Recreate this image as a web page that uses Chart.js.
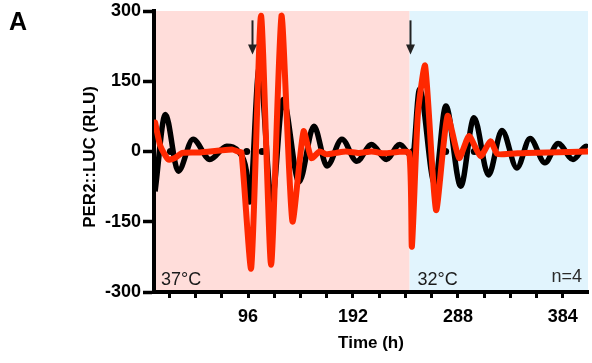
<!DOCTYPE html>
<html><head><meta charset="utf-8">
<script src="https://cdn.jsdelivr.net/npm/chart.js@4.4.1/dist/chart.umd.min.js"></script>
<style>html,body{margin:0;padding:0;background:#fff;}canvas{display:block;}</style>
</head><body>
<canvas id="c" width="592" height="363"></canvas>
<script>
// ---- data ----
const blackTimes  = [11, 20.4, 32.2, 45.7, 61.1, 76.5, 88, 94.4, 97.4, 106.4, 117.8, 128, 142.7, 156.3, 168.3, 181.9, 195.5, 209, 222.6, 234.8, 243, 246.5, 252.9, 266.7, 277, 290.6, 302.7, 316, 328.3, 342, 354, 367.6, 379.7, 393.3, 405.3, 407];
const blackValues = [-85, 79, -42, 26, -17, 11, -2, -40, -108, 180, -106, 111, -65, 54, -31, 26, -21, 15, -17, 15, -5, -12, 133, -68, 97, -74, 72, -50, 45, -35, 28, -24, 17, -17, 11, 9];
const redTimes  = [11, 15.9, 23, 29, 36, 52, 70, 82, 86.5, 90, 98.9, 107.9, 117.1, 126.6, 136.6, 146.8, 154, 161.5, 167.5, 176.5, 185.5, 197.5, 209, 221, 233, 243.5, 245.9, 251.4, 258, 268, 278.5, 289.1, 298.2, 308.7, 317.8, 324, 335, 350, 370, 390, 407];
const redValues = [62, 11, -17, -14, -3, -2, 2, 4, 0, -2, -249, 290, -242, 290, -149, 43, -14, 0, -6, -3, 0, -3, 0, -4, -1, -3, -203, 80, 183, -125, 76, -14, 33, -10, 22, -5, -5, -3, -2, -1, 0];
const markerTimes = [25, 94.8, 108.9, 246.9, 276.8, 303];
const yTickValues = [-300, -150, 0, 150, 300];
const xTickMarks = [24, 48, 72, 96, 120, 144, 168, 192, 216, 240, 264, 288, 312, 336, 360, 384];
const xTickLabels = [96, 192, 288, 384];
const phaseSwitch = 243.8;
const arrowTimes = [99.5, 243.8];
const phaseLabels = ['37°C', '32°C'];
const groupLabel = 'n=4';
const yTitle = 'PER2::LUC (RLU)';

const FONT = '"Liberation Sans", Arial, Helvetica, sans-serif';
const RED = '#FF2800';
const PINK = '#FFDDDA';
const BLUE = '#E1F4FD';

const toXY = (ts, vs) => ts.map((t, i) => ({x: t, y: vs[i]}));

const decor = {
  id: 'decor',
  beforeDraw(chart) {
    const {ctx, chartArea: a, scales: {x}} = chart;
    const xb = x.getPixelForValue(phaseSwitch);
    ctx.save();
    ctx.fillStyle = PINK;
    ctx.fillRect(a.left, a.top, xb - a.left, a.bottom - a.top);
    ctx.fillStyle = BLUE;
    ctx.fillRect(xb, a.top, a.right - xb, a.bottom - a.top);
    ctx.restore();
  },
  afterDatasetsDraw(chart) {
    const {ctx, chartArea: a, scales: {x, y}} = chart;
    ctx.save();
    for (const t of arrowTimes) {
      const px = Math.round(x.getPixelForValue(t)) + 0.5;
      const y0 = y.getPixelForValue(280), y1 = y.getPixelForValue(207);
      ctx.strokeStyle = '#222'; ctx.lineWidth = 2;
      ctx.beginPath(); ctx.moveTo(px, y0); ctx.lineTo(px, y1 - 6); ctx.stroke();
      ctx.fillStyle = '#222';
      ctx.beginPath(); ctx.moveTo(px - 4.5, y1 - 10); ctx.lineTo(px + 4.5, y1 - 10); ctx.lineTo(px, y1); ctx.closePath(); ctx.fill();
    }
    ctx.fillStyle = '#1a1a1a';
    ctx.font = '18px ' + FONT;
    ctx.textBaseline = 'alphabetic';
    ctx.textAlign = 'left';
    ctx.fillText(phaseLabels[0], a.left + 7, a.bottom - 7);
    ctx.fillText(phaseLabels[1], x.getPixelForValue(phaseSwitch) + 8, a.bottom - 7);
    ctx.textAlign = 'right';
    ctx.fillStyle = '#2a2a2a';
    ctx.fillText(groupLabel, a.right - 6, a.bottom - 10);
    ctx.restore();
  },
  afterDraw(chart) {
    const {ctx} = chart;
    ctx.save();
    ctx.fillStyle = '#000';
    ctx.font = 'bold 25px ' + FONT;
    ctx.textAlign = 'left';
    ctx.textBaseline = 'alphabetic';
    ctx.fillText('A', 9, 29.5);
    ctx.translate(90, 157);
    ctx.rotate(-Math.PI / 2);
    ctx.font = 'bold 17px ' + FONT;
    ctx.textAlign = 'center';
    ctx.textBaseline = 'middle';
    ctx.fillText(yTitle, 0, 0);
    ctx.restore();
  }
};

new Chart(document.getElementById('c'), {
  type: 'line',
  data: {
    datasets: [
      {label: 'red', data: toXY(redTimes, redValues), borderColor: RED, borderWidth: 6, pointRadius: 0, tension: 0.2, order: 0, borderJoinStyle: 'round', borderCapStyle: 'round'},
      {label: 'marks', data: markerTimes.map(t => ({x: t, y: 0})), showLine: false, pointRadius: 3.5, pointBackgroundColor: '#000', pointBorderWidth: 0, order: 1},
      {label: 'black', data: toXY(blackTimes, blackValues), borderColor: '#000', borderWidth: 5.5, pointRadius: 0, cubicInterpolationMode: 'monotone', order: 2, borderJoinStyle: 'round'}
    ]
  },
  options: {
    responsive: false,
    animation: false,
    events: [],
    layout: {padding: {top: 11, right: 0, bottom: 0, left: 0}},
    plugins: {legend: {display: false}, tooltip: {enabled: false}},
    scales: {
      x: {
        type: 'linear', min: 10, max: 407,
        afterBuildTicks: s => { s.ticks = xTickMarks.map(v => ({value: v})); },
        afterFit: s => { s.height = 71; s.paddingLeft = 0; s.paddingRight = 0; },
        grid: {display: true, drawOnChartArea: false, drawTicks: true, tickLength: 6, tickWidth: 3, tickColor: '#000'},
        border: {display: true, color: '#000', width: 4},
        ticks: {autoSkip: false, maxRotation: 0, padding: 8, color: '#000',
          font: {family: FONT, size: 18, weight: 'bold'},
          callback: v => xTickLabels.includes(v) ? String(v) : ''},
        title: {display: true, text: 'Time (h)', color: '#000', font: {family: FONT, size: 17, weight: 'bold'}, padding: {top: 0, bottom: 9}}
      },
      y: {
        min: -300, max: 300,
        afterBuildTicks: s => { s.ticks = yTickValues.map(v => ({value: v})); },
        afterFit: s => { s.width = 154; s.paddingTop = 0; s.paddingBottom = 0; },
        grid: {display: true, drawOnChartArea: false, drawTicks: true, tickLength: 11, tickWidth: 3.5, tickColor: '#000'},
        border: {display: true, color: '#000', width: 4},
        ticks: {padding: 2, color: '#000', font: {family: FONT, size: 18, weight: 'bold'}},
        title: {display: false}
      }
    }
  },
  plugins: [decor]
});
</script>
</body></html>
